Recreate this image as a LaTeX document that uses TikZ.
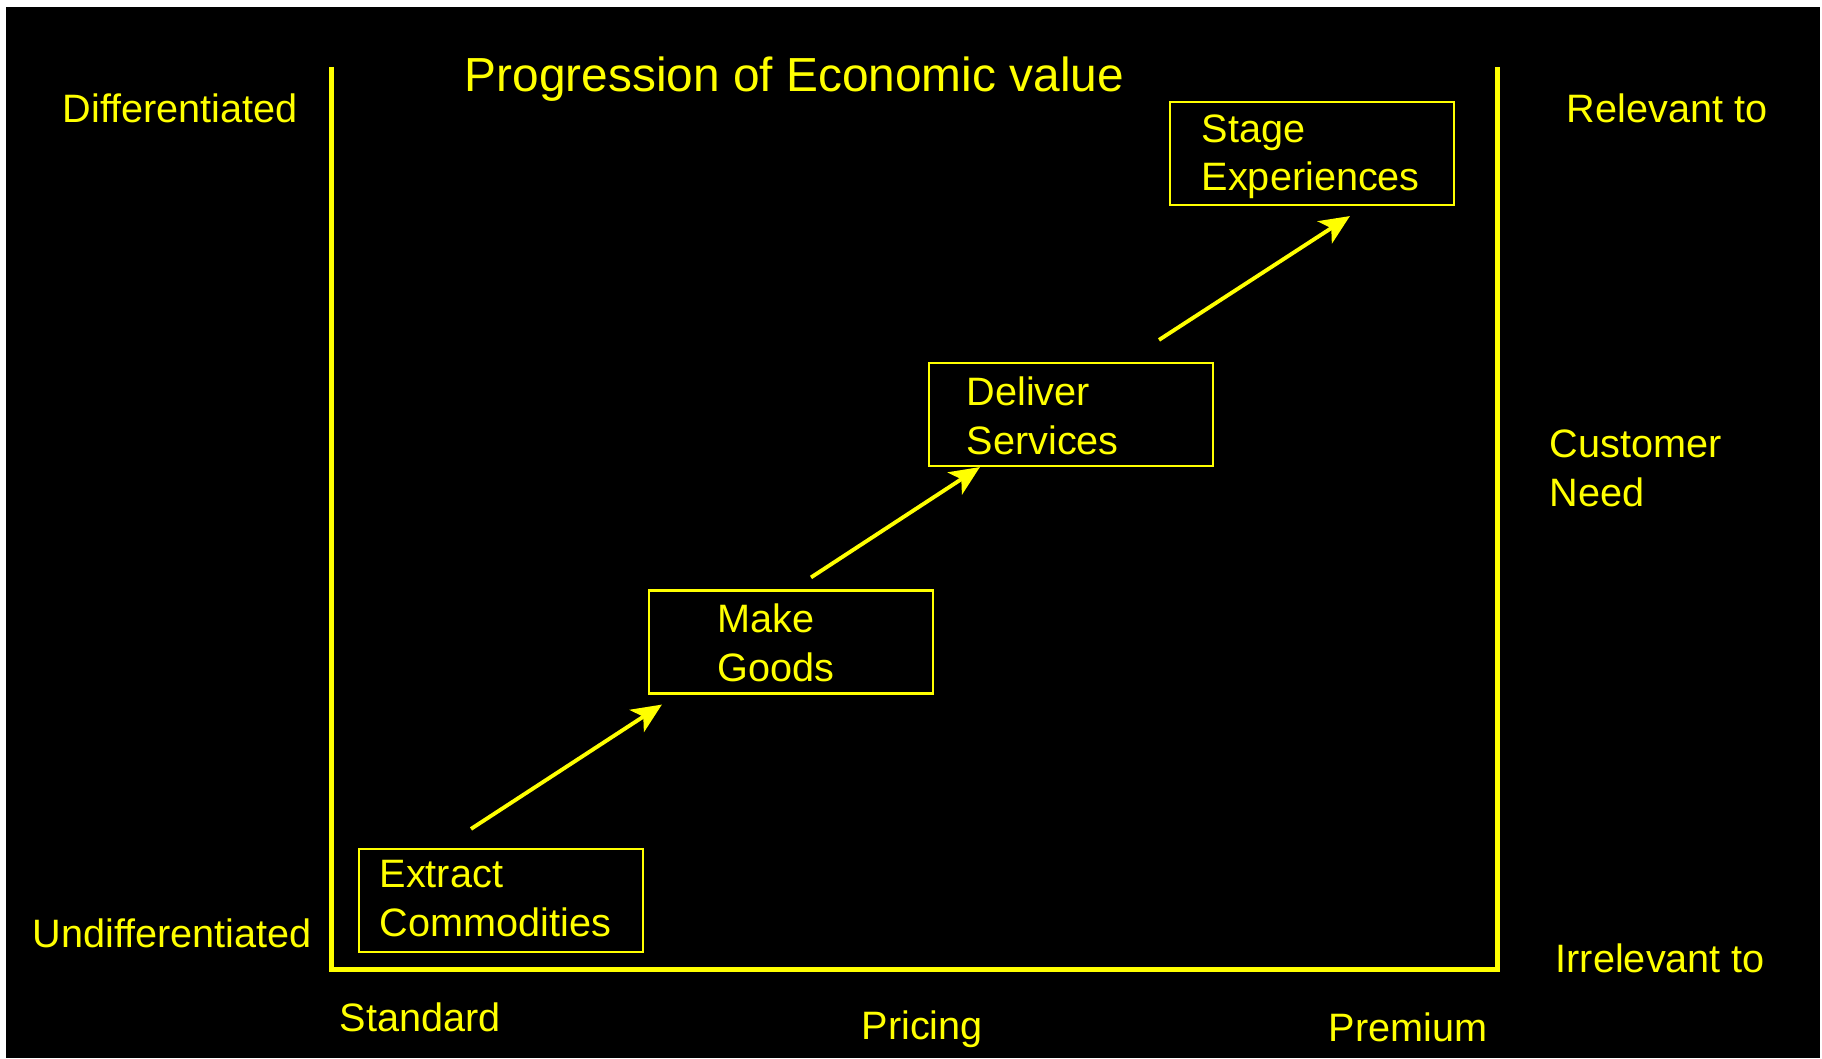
\documentclass[tikz,border=0pt]{standalone}
\usepackage{fontspec}
\setmainfont{Liberation Sans}
\usepackage{tikz}
\usetikzlibrary{calc, arrows.meta, positioning}
\definecolor{valueyellow}{HTML}{FFFF00}
\tikzset{
    x=0.01cm, y=-0.01cm,% one unit is one pixel of the picture, y runs downwards
    label text/.style = {inner sep=0, anchor=base west, text=valueyellow, font=\fontsize{11.27}{13.66}\selectfont, align=left},% base is the last line
    title text/.style = {label text, font=\fontsize{13.6}{16}\selectfont},
    stagebox/.style = {draw=valueyellow, line width=0.6pt, minimum width=2.84cm, minimum height=1.03cm, inner sep=0},% the box round one stage
    axis/.style = {draw=valueyellow, line width=1.42pt, line join=miter},
    progress/.style = {draw=valueyellow, line width=1.1pt, -{Stealth[length=8.5pt, width=7.5pt, inset=2.2pt]}}
}
\begin{document}
\begin{tikzpicture}
    \useasboundingbox (0,0) rectangle (1822,1058);
    \fill[black] (6,7) rectangle (1820,1058);
    % the frame of the chart
    \coordinate (top left) at (331.5,67);
    \coordinate (origin) at (331.5,969);
    \coordinate (corner) at (1497.5,969);
    \coordinate (top right) at (1497.5,67);
    \draw[axis] (top left) -- (origin) -- (corner) -- (top right);
    % the four stages
    \node[stagebox] (extract) at (501,900.5) {};
    \node[stagebox] (goods) at (791,642) {};
    \node[stagebox] (services) at (1071,414.5) {};
    \node[stagebox] (experiences) at (1312,153.5) {};
    \node[label text] (extract text) at (379,936) {Extract\\Commodities};
    \node[label text] (goods text) at (717,681) {Make\\Goods};
    \node[label text] (services text) at (966,454) {Deliver\\Services};
    \node[label text] (experiences text) at (1201,191) {Stage\\Experiences};
    % arrows from one stage up to the next
    \draw[progress] ([shift={(-30,-19)}]extract.north) -- ([shift={(14,10)}]goods.south west);
    \draw[progress] ([shift={(20,-12)}]goods.north) -- ([shift={(52,0)}]services.south west);
    \draw[progress] ([shift={(88,-22)}]services.north) -- ([shift={(181,10)}]experiences.south west);
    % texts round the frame
    \node[title text] (title) at (464,92) {Progression of Economic value};
    \node[label text] (differentiated) at (62,123) {Differentiated};
    \node[label text] (undifferentiated) at (32,947) {Undifferentiated};
    \node[label text] (standard) at (339,1031) {Standard};
    \node[label text] (pricing) at (861,1039) {Pricing};
    \node[label text] (premium) at (1328,1041) {Premium};
    \node[label text] (relevant) at (1566,123) {Relevant to};
    \node[label text] (need) at (1549,506) {Customer\\Need};
    \node[label text] (irrelevant) at (1555,972) {Irrelevant to};
\end{tikzpicture}
\end{document}
